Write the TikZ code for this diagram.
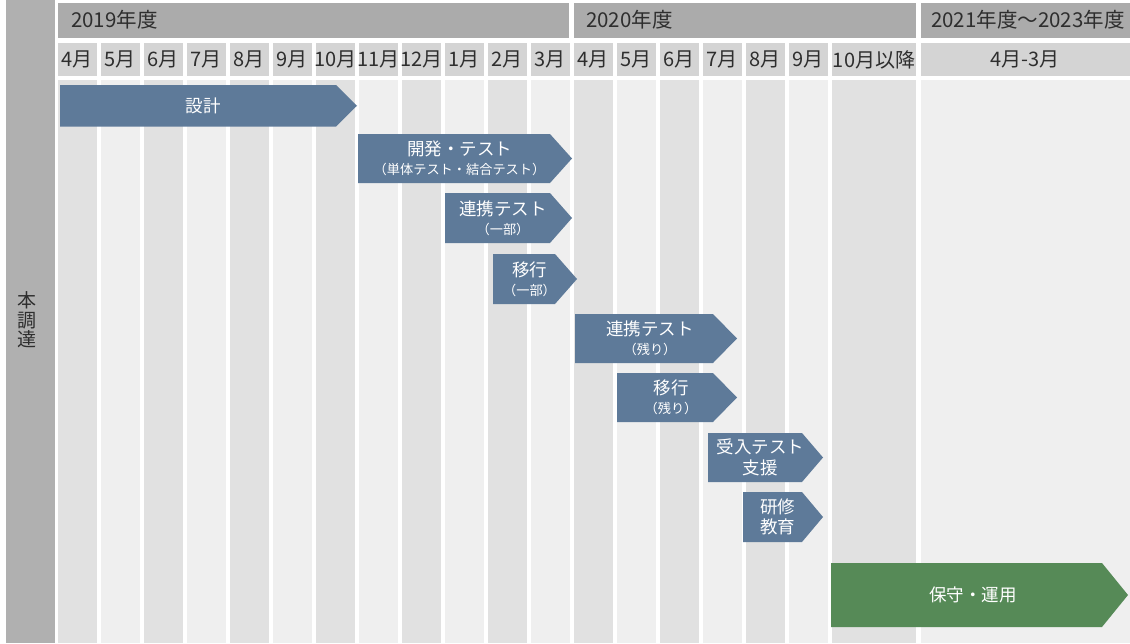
\documentclass[tikz,border=0pt]{standalone}
\usepackage{fontspec}
\setmainfont{Noto Sans CJK JP}
\definecolor{yearbg}{HTML}{ABABAB}
\definecolor{leftbg}{HTML}{B0B0B0}
\definecolor{monthbg}{HTML}{D4D4D4}
\definecolor{coldark}{HTML}{E1E1E1}
\definecolor{collight}{HTML}{EFEFEF}
\definecolor{phaseblue}{HTML}{5E7A99}
\definecolor{phasegreen}{HTML}{568A57}
\definecolor{headtext}{HTML}{2E2E2E}
\tikzset{
  yeartext/.style={anchor=west, text=headtext, font=\fontsize{20.5}{22}\selectfont, inner sep=0pt},
  monthtext/.style={text=headtext, font=\fontsize{20}{22}\selectfont, inner sep=0pt},
  phasetext/.style={text=white, align=center, inner sep=0pt, font=\fontsize{17.5}{20.5}\selectfont},
  bluephase/.style={fill=phaseblue},
  greenphase/.style={fill=phasegreen},
}
\newcommand\subline[1]{{\fontsize{13.2}{19}\selectfont #1}}
% #1 style, #2 name, #3 left, #4 top, #5 tip start, #6 tip, #7 bottom, #8 text
\newcommand\phasearrow[8]{%
  \fill[#1] (#3,#4) -- (#5,#4) -- (#6,{(#4+#7)/2}) -- (#5,#7) -- (#3,#7) -- cycle;
  \node[phasetext] (#2) at ({(#3+(#5+#6)/2)/2},{(#4+#7)/2}) {#8};
}
\begin{document}
\begin{tikzpicture}[x=1pt,y=-1pt]
\useasboundingbox[fill=white] (0,0) rectangle (1130,643);
% left label bar
\fill[leftbg] (6,0) rectangle (55,643);
\node[text=headtext, align=center, inner sep=0pt, font=\fontsize{19}{19.5}\selectfont] (lbl) at (27,320) {本\\調\\達};
% year headers
\fill[yearbg] (58,3) rectangle (569,38);
\node[yeartext] (y2019) at (71,19.5) {2019年度};
\fill[yearbg] (574,3) rectangle (916,38);
\node[yeartext] (y2020) at (586,19.5) {2020年度};
\fill[yearbg] (921,3) rectangle (1130,38);
\node[yeartext] (y2021) at (931,19.5) {2021年度～2023年度};
% month columns
\foreach \m [count=\i from 0] in {4,5,6,7,8,9,10,11,12,1,2,3,4,5,6,7,8,9}{
  \pgfmathsetmacro\xa{58+43*\i}
  \pgfmathsetmacro\xb{\xa+38.5}
  \pgfmathtruncatemacro\parity{mod(\i,2)}
  \ifnum\parity=0 \def\cc{coldark}\else\def\cc{collight}\fi
  \fill[monthbg] (\xa,43) rectangle (\xb,76);
  \fill[\cc] (\xa,79.5) rectangle (\xb,643);
  \node[monthtext] (m\i) at ({(\xa+\xb)/2},59.5) {\m 月};
}
\fill[monthbg] (832,43) rectangle (916,76);
\fill[coldark] (832,79.5) rectangle (916,643);
\node[monthtext] (m18) at (874,59.5) {10月以降};
\fill[monthbg] (921,43) rectangle (1130,76);
\fill[collight] (921,79.5) rectangle (1130,643);
\node[monthtext] (m19) at (1025,59.5) {4月-3月};
% phases
\phasearrow{bluephase}{design}{60}{85}{336}{357}{126.5}{設計}
\phasearrow{bluephase}{dev}{358}{134}{550}{572}{183}{開発・テスト\\[-1.5pt]\subline{（単体テスト・結合テスト）}}
\phasearrow{bluephase}{link1}{445}{193}{550}{572}{243}{連携テスト\\[-1.5pt]\subline{（一部）}}
\phasearrow{bluephase}{mig1}{493}{254}{555}{577}{304}{移行\\[-1.5pt]\subline{（一部）}}
\phasearrow{bluephase}{link2}{575}{314}{713}{737}{363}{連携テスト\\[-1.5pt]\subline{（残り）}}
\phasearrow{bluephase}{mig2}{617}{373}{713}{737}{422}{移行\\[-1.5pt]\subline{（残り）}}
\phasearrow{bluephase}{accept}{708}{433}{802}{823}{482}{受入テスト\\支援}
\phasearrow{bluephase}{train}{743}{492}{802}{823}{542}{研修\\教育}
\phasearrow{greenphase}{ops}{831}{563}{1102}{1128}{627}{保守・運用}
\end{tikzpicture}
\end{document}
